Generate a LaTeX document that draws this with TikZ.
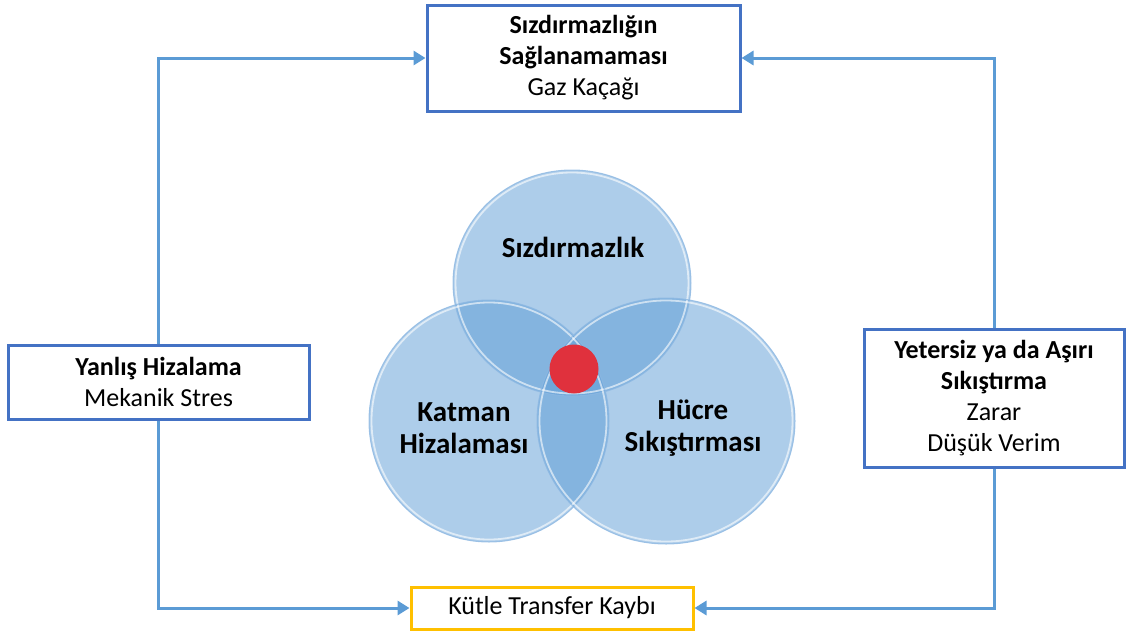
\documentclass[tikz,border=0pt]{standalone}
\usepackage{fontspec}
\setmainfont{Carlito}
\usetikzlibrary{arrows.meta}
\definecolor{boxblue}{HTML}{4472C4}
\definecolor{linkblue}{HTML}{5B9BD5}
\definecolor{gold}{HTML}{FFC000}
\definecolor{bubble}{HTML}{5B9BD5}
\definecolor{rim}{HTML}{8DB8E2}
\definecolor{core}{HTML}{E0313D}
\tikzset{
  infobox/.style={draw=boxblue, line width=3pt, fill=white, align=center,
    inner sep=0pt, font=\fontsize{26}{31}\selectfont},
  resultbox/.style={infobox, draw=gold},
  link/.style={draw=linkblue, line width=3pt,
    -{Triangle[length=12pt,width=14pt]}},
  bubblefill/.style={fill=bubble, fill opacity=0.5},
  bubblerim/.style={draw=rim, line width=1pt, draw opacity=0.8},
  bubbleshine/.style={draw=white, line width=1.8pt, draw opacity=0.6},
  bubbletext/.style={align=center, font=\fontsize{29}{32}\selectfont\bfseries}
}
\begin{document}
\begin{tikzpicture}[x=1pt,y=-1pt]
\useasboundingbox (0,0) rectangle (1128,632);

% three overlapping factors
\foreach \cx/\cy/\rx/\ry in {572/283/119/113, 489/421/120/121, 666/421/129/123}{
  \fill[bubblefill] (\cx,\cy) ellipse [x radius=\rx, y radius=\ry];
}
\foreach \cx/\cy/\rx/\ry in {572/283/119/113, 489/421/120/121, 666/421/129/123}{
  \draw[bubblerim] (\cx,\cy) ellipse [x radius=\rx, y radius=\ry];
  \draw[bubbleshine] (\cx,\cy) ellipse [x radius=\rx-2.5, y radius=\ry-2.5];
}
\node[circle, fill=core, minimum size=49pt, inner sep=0pt] (center) at (574,369) {};

\node[bubbletext] (seal) at (573,247) {Sızdırmazlık};
\node[bubbletext] (align) at (464,428) {Katman\\Hizalaması};
\node[bubbletext] (comp) at (693,428) {Hücre\\Sıkıştırması};

% consequence boxes
\node[infobox, minimum width=313pt, minimum height=106pt] (top) at (583.5,58)
  {\textbf{Sızdırmazlığın}\\\textbf{Sağlanamaması}\\Gaz Kaçağı};
\node[infobox, minimum width=301pt, minimum height=74pt] (left) at (158.5,382)
  {\textbf{Yanlış Hizalama}\\Mekanik Stres};
\node[infobox, minimum width=260pt, minimum height=138pt] (right) at (994,398)
  {\textbf{Yetersiz ya da Aşırı}\\\textbf{Sıkıştırma}\\Zarar\\Düşük Verim};
\node[resultbox, minimum width=282pt, minimum height=42pt] (bottom) at (552,608)
  {Kütle Transfer Kaybı};

% feedback connectors
\draw[link] (left.north) |- (top.west);
\draw[link] (left.south) |- (bottom.west);
\draw[link] (right.north) |- (top.east);
\draw[link] (right.south) |- (bottom.east);
\end{tikzpicture}
\end{document}
